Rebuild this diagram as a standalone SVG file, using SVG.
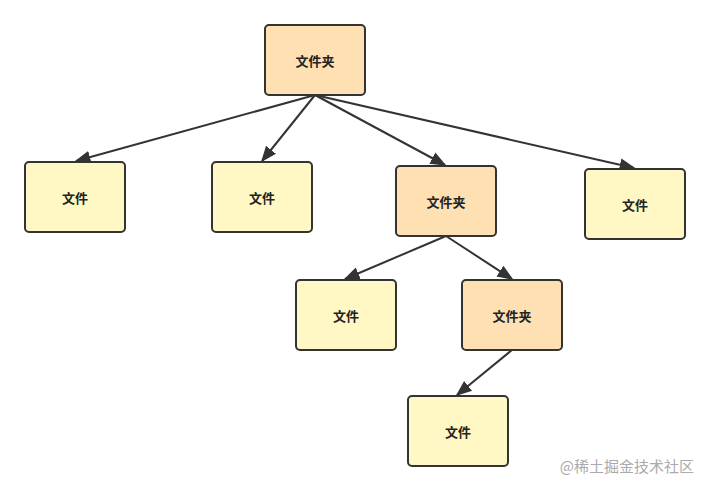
<svg xmlns="http://www.w3.org/2000/svg" width="710" height="491" viewBox="0 0 710 491">
<defs>
<marker id="a" viewBox="0 0 10 10" refX="9" refY="5" markerWidth="9" markerHeight="9" orient="auto" markerUnits="userSpaceOnUse"><path d="M0,0L10,5L0,10z" fill="#333"/></marker>
<marker id="ah" viewBox="0 0 10 10" refX="9" refY="5" markerWidth="16" markerHeight="16" orient="auto" markerUnits="userSpaceOnUse"><path d="M0,1L10,5L0,9z" fill="#333"/></marker>
<style>
.n rect{stroke:#333;stroke-width:2}
.d rect{fill:#ffe0b3}
.f rect{fill:#fff8c5}
.n text{font-family:"Noto Sans CJK SC",sans-serif;font-size:13px;font-weight:bold;fill:#222;text-anchor:middle;dominant-baseline:central}
.e line{stroke:#333;stroke-width:2;marker-end:url(#ah)}
</style>
</defs>
<rect width="710" height="491" fill="#fff"/>
<g class="e">
<line x1="315" y1="95" x2="76" y2="161"/>
<line x1="315" y1="95" x2="262" y2="161"/>
<line x1="315" y1="95" x2="445" y2="165"/>
<line x1="315" y1="95" x2="634" y2="168"/>
<line x1="446" y1="236" x2="345" y2="279"/>
<line x1="446" y1="236" x2="512" y2="279"/>
<line x1="512" y1="350" x2="457" y2="395"/>
</g>
<g id="root" class="n d"><rect x="265" y="25" width="100" height="70" rx="4"/><text x="315" y="60">文件夹</text></g>
<g id="f1" class="n f"><rect x="25" y="162" width="100" height="70" rx="4"/><text x="75" y="197">文件</text></g>
<g id="f2" class="n f"><rect x="212" y="162" width="100" height="70" rx="4"/><text x="262" y="197">文件</text></g>
<g id="d2" class="n d"><rect x="396" y="166" width="100" height="70" rx="4"/><text x="446" y="201">文件夹</text></g>
<g id="f3" class="n f"><rect x="585" y="169" width="100" height="70" rx="4"/><text x="635" y="204">文件</text></g>
<g id="f4" class="n f"><rect x="296" y="280" width="100" height="70" rx="4"/><text x="346" y="315">文件</text></g>
<g id="d3" class="n d"><rect x="462" y="280" width="100" height="70" rx="4"/><text x="512" y="315">文件夹</text></g>
<g id="f5" class="n f"><rect x="408" y="396" width="100" height="70" rx="4"/><text x="458" y="431">文件</text></g>
<text x="694" y="472" font-family="Noto Sans CJK SC,sans-serif" font-size="15" fill="#aaa" text-anchor="end">@稀土掘金技术社区</text>
</svg>
